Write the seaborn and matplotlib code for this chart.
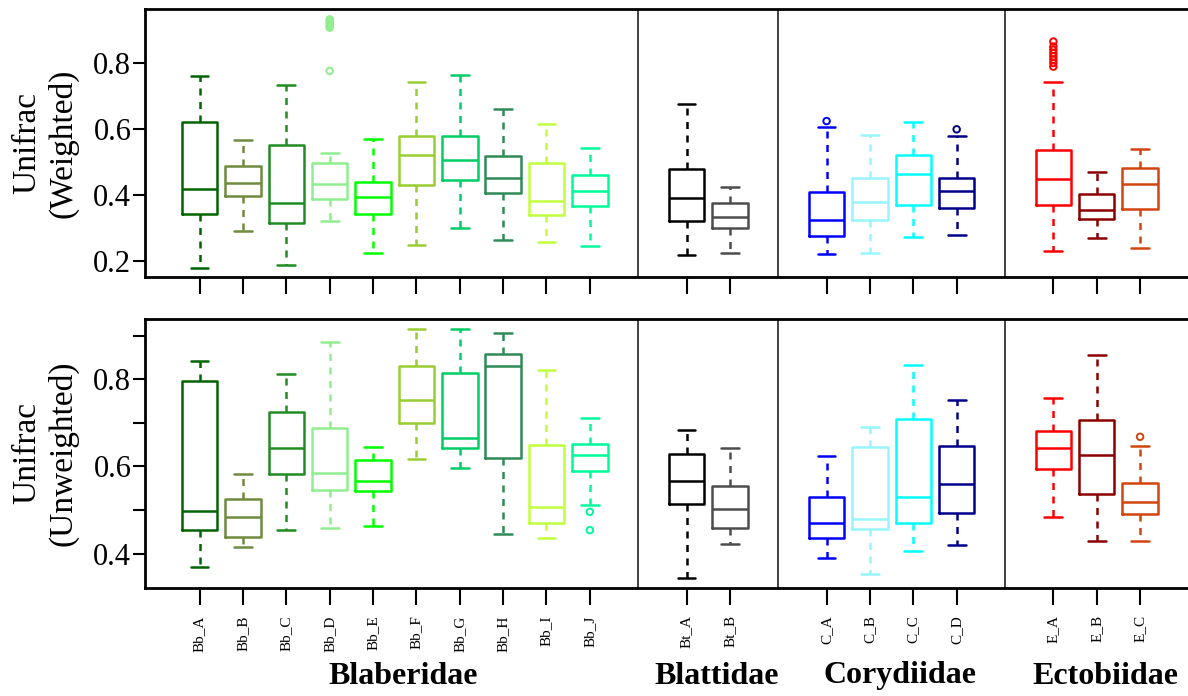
import numpy as np
import pandas as pd
import matplotlib
matplotlib.use("Agg")
import matplotlib.pyplot as plt
import matplotlib.transforms as mtransforms
import seaborn as sns

# sample groups, in plot order
samples = ["Bb_A", "Bb_B", "Bb_C", "Bb_D", "Bb_E", "Bb_F", "Bb_G", "Bb_H", "Bb_I", "Bb_J",
           "Bt_A", "Bt_B", "C_A", "C_B", "C_C", "C_D", "E_A", "E_B", "E_C"]
families = ["Blaberidae", "Blattidae", "Corydiidae", "Ectobiidae"]
family_sizes = [10, 2, 4, 3]
colors = ["#006400", "#6E8B3D", "#228B22", "#90EE90", "#00FF00", "#9ACD32", "#00CD66",
          "#2E8B57", "#C0FF3E", "#00FA9A", "#000000", "#4D4D4D", "#0000FF", "#98F5FF",
          "#00FFFF", "#00008B", "#FF0000", "#8B0000", "#D2450F"]

# weighted unifrac: whisker low, Q1, median, Q3, whisker high
w_low = [0.180, 0.291, 0.187, 0.321, 0.223, 0.249, 0.299, 0.263, 0.258, 0.244,
         0.219, 0.225, 0.222, 0.225, 0.273, 0.280, 0.231, 0.269, 0.239]
w_q1 = [0.341, 0.396, 0.314, 0.387, 0.341, 0.430, 0.444, 0.405, 0.338, 0.367,
        0.322, 0.300, 0.277, 0.324, 0.370, 0.361, 0.371, 0.327, 0.359]
w_med = [0.418, 0.436, 0.377, 0.434, 0.394, 0.521, 0.506, 0.452, 0.383, 0.412,
         0.391, 0.333, 0.325, 0.380, 0.465, 0.413, 0.447, 0.354, 0.432]
w_q3 = [0.620, 0.489, 0.551, 0.496, 0.440, 0.578, 0.580, 0.518, 0.497, 0.462,
        0.478, 0.375, 0.410, 0.450, 0.521, 0.453, 0.536, 0.404, 0.483]
w_high = [0.761, 0.567, 0.732, 0.526, 0.569, 0.742, 0.765, 0.662, 0.616, 0.541,
          0.675, 0.425, 0.607, 0.583, 0.622, 0.580, 0.741, 0.469, 0.538]
w_out_sample = ["Bb_D"] * 7 + ["C_A", "C_D"] + ["E_A"] * 8
w_out_value = [0.776, 0.907, 0.912, 0.917, 0.922, 0.927, 0.932, 0.624, 0.599,
               0.789, 0.800, 0.810, 0.820, 0.830, 0.840, 0.850, 0.865]

# unweighted unifrac
u_low = [0.369, 0.415, 0.454, 0.458, 0.464, 0.618, 0.597, 0.444, 0.436, 0.511,
         0.344, 0.422, 0.389, 0.354, 0.407, 0.419, 0.484, 0.428, 0.430]
u_q1 = [0.455, 0.439, 0.583, 0.545, 0.543, 0.700, 0.642, 0.620, 0.470, 0.590,
        0.515, 0.459, 0.436, 0.457, 0.471, 0.494, 0.595, 0.537, 0.491]
u_med = [0.499, 0.483, 0.642, 0.584, 0.566, 0.753, 0.666, 0.831, 0.507, 0.626,
         0.566, 0.502, 0.471, 0.480, 0.529, 0.559, 0.642, 0.627, 0.518]
u_q3 = [0.797, 0.525, 0.725, 0.688, 0.615, 0.831, 0.815, 0.857, 0.649, 0.652,
        0.628, 0.556, 0.531, 0.645, 0.708, 0.646, 0.682, 0.707, 0.561]
u_high = [0.842, 0.582, 0.811, 0.886, 0.645, 0.914, 0.915, 0.907, 0.821, 0.712,
          0.683, 0.642, 0.624, 0.690, 0.832, 0.753, 0.756, 0.855, 0.646]
u_out_sample = ["Bb_J", "Bb_J", "E_C"]
u_out_value = [0.496, 0.454, 0.668]

sns.set_style("ticks", {"axes.edgecolor": "black", "xtick.color": "black",
                        "ytick.color": "black", "text.color": "black"})
plt.rcParams["font.family"] = ["Liberation Serif", "DejaVu Serif"]

palette = dict(zip(samples, colors))

# x positions: one unit per box, extra gap between families
gap = 1.23
pos = []
x = 0.0
for k, n in enumerate(family_sizes):
    for i in range(n):
        pos.append(x)
        x += 1
    x += gap
pos_of = dict(zip(samples, pos))
starts = np.cumsum([0] + family_sizes)
seps = [(pos[starts[k] - 1] + pos[starts[k]]) / 2 for k in range(1, len(family_sizes))]
centers = [np.mean(pos[starts[k]:starts[k + 1]]) for k in range(len(family_sizes))]

fig = plt.figure(figsize=(11.88, 6.96), dpi=100)
W, H = 1188, 696
unit = 43.36
x0 = 199.6
xmin, xmax = -1.27, 22.95
left = (x0 + xmin * unit) / W
width = (xmax - xmin) * unit / W

panels = [
    dict(low=w_low, q1=w_q1, med=w_med, q3=w_q3, high=w_high,
         out_s=w_out_sample, out_v=w_out_value, top=9, bottom=277,
         ylim=(0.1515, 0.9636), ticks=[0.2, 0.4, 0.6, 0.8],
         labels=["0.2", "0.4", "0.6", "0.8"], ylabel="Unifrac\n(Weighted)"),
    dict(low=u_low, q1=u_q1, med=u_med, q3=u_q3, high=u_high,
         out_s=u_out_sample, out_v=u_out_value, top=319, bottom=587.5,
         ylim=(0.3225, 0.938), ticks=[0.4, 0.5, 0.6, 0.7, 0.8, 0.9],
         labels=["0.4", "", "0.6", "", "0.8", ""], ylabel="Unifrac\n(Unweighted)"),
]

axes = []
for p in panels:
    ax = fig.add_axes([left, 1 - p["bottom"] / H, width, (p["bottom"] - p["top"]) / H])
    rows = []
    for j, s in enumerate(samples):
        for v in (p["low"][j], p["q1"][j], p["med"][j], p["q3"][j], p["high"][j]):
            rows.append({"sample": s, "pos": pos_of[s], "value": v})
    df = pd.DataFrame(rows)
    sns.boxplot(data=df, x="pos", y="value", hue="sample", palette=palette,
                native_scale=True, dodge=False, fill=False, width=0.82,
                whis=np.inf, linewidth=1.8, legend=False, ax=ax,
                whiskerprops=dict(linestyle=(0, (2.8, 2.6))))
    out = pd.DataFrame({"sample": p["out_s"], "value": p["out_v"]})
    out["pos"] = out["sample"].map(pos_of)
    sns.scatterplot(data=out, x="pos", y="value", hue="sample", palette=palette,
                    s=22, marker="o", linewidth=1.4, legend=False, ax=ax)
    pts = ax.collections[-1]
    pts.set_edgecolors(pts.get_facecolors())
    pts.set_facecolors("none")

    for sx in seps:
        ax.axvline(sx, color="#333333", lw=1.3, zorder=0)
    ax.set_xlim(xmin, xmax)
    ax.set_ylim(*p["ylim"])
    ax.set_yticks(p["ticks"])
    ax.set_yticklabels(p["labels"], fontsize=22)
    ax.set_xticks(pos)
    ax.set_xlabel("")
    ax.set_ylabel("")
    ax.tick_params(axis="y", length=8.5, width=1.5, pad=1, colors="black")
    ax.tick_params(axis="x", length=12, width=1.5, pad=8, colors="black")
    for sp in ax.spines.values():
        sp.set_linewidth(2)
        sp.set_color("black")
        sp.set_visible(True)
    ax.spines["right"].set_visible(False)
    ymid = 1 - (p["top"] + p["bottom"]) / 2 / H
    fig.text(45 / W, ymid, p["ylabel"], rotation=90, ha="center", va="center",
             fontsize=24, linespacing=1.22, color="black")
    axes.append(ax)

axes[0].set_xticklabels([])
axes[1].set_xticklabels(samples, rotation=90, fontsize=11, va="top")

trans = mtransforms.blended_transform_factory(axes[1].transData, fig.transFigure)
for c, name in zip(centers, families):
    fig.text(c + 0.2, 1 - 676 / H, name, transform=trans, ha="center", va="center",
             fontsize=23, fontweight="bold", color="black")

fig.savefig("out.png", dpi=100)
